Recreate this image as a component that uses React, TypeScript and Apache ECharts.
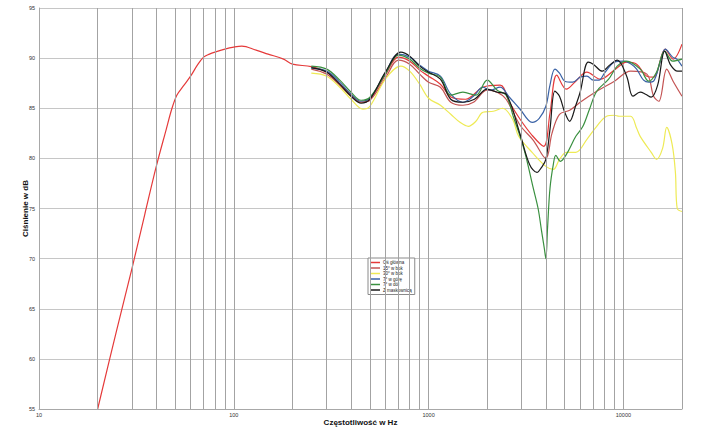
import React, { useEffect, useRef } from 'react';
import * as echarts from 'echarts';

const seriesNames = ['Oś główna', '15° w bok', '30° w bok', '7° w górę', '7° w dół', 'Z maskownicą'];
const seriesColors = ['#e53a3a', '#c45454', '#eeea55', '#3a62a6', '#3a9040', '#1a1a1a'];

const xTickValues = [10, 100, 1000, 10000];
const minorGridFreqs = [20, 30, 40, 50, 60, 70, 80, 90, 200, 300, 400, 500, 600, 700, 800, 900,
  2000, 3000, 4000, 5000, 6000, 7000, 8000, 9000, 20000];

const mainFreq = [20, 25, 30, 35, 40, 45, 48, 51, 55, 60, 65, 70, 75, 80, 90, 100, 110, 130, 150, 180, 200, 250, 300, 350, 400, 450, 500, 600, 700, 800, 900, 1000, 1150, 1310, 1550, 1900, 2330, 2600, 2950, 3400, 3900, 4200, 4550, 5100, 5700, 6500, 7600, 9100, 10400, 11700, 13200, 14300, 16400, 18000, 20000];
const mainDb = [55.0, 62.8, 69.0, 74.5, 79.2, 82.9, 84.9, 86.3, 87.2, 88.2, 89.3, 90.1, 90.4, 90.6, 90.9, 91.1, 91.2, 90.8, 90.4, 89.9, 89.4, 89.15, 88.6, 87.4, 86.3, 85.6, 85.9, 88.3, 90.1, 89.7, 88.8, 88.2, 87.4, 86.1, 85.9, 87.1, 87.3, 85.6, 83.9, 82.3, 81.2, 84.5, 88.3, 86.9, 87.7, 88.6, 87.9, 88.9, 89.6, 89.4, 88.2, 88.1, 90.9, 89.9, 91.4];

const side15Freq = [250, 300, 350, 400, 450, 500, 600, 700, 800, 900, 1000, 1150, 1300, 1500, 1700, 2000, 2250, 2500, 2950, 3450, 4000, 4300, 4700, 5300, 6000, 7300, 9000, 10900, 13200, 14300, 15200, 16700, 18000, 20000];
const side15Db = [88.9, 88.4, 87.3, 86.2, 85.6, 85.8, 88.0, 89.8, 89.4, 88.4, 87.6, 87.1, 85.6, 85.3, 85.6, 86.8, 86.6, 85.9, 83.3, 81.8, 80.0, 82.5, 84.4, 84.8, 85.6, 86.7, 87.7, 88.7, 88.4, 86.2, 85.7, 88.9, 87.7, 86.2];

const side30Freq = [250, 300, 350, 400, 460, 500, 600, 720, 800, 900, 1000, 1150, 1300, 1450, 1600, 1750, 1900, 2150, 2400, 2700, 2900, 3400, 4000, 4370, 4700, 5100, 5700, 6500, 7300, 8200, 9000, 9500, 10900, 11700, 12200, 13900, 14800, 15900, 16700, 17800, 18500, 18900, 20000];
const side30Db = [88.5, 88.2, 87.1, 85.9, 84.9, 85.2, 87.9, 89.2, 88.7, 87.4, 86.0, 85.3, 84.4, 83.6, 83.2, 83.7, 84.6, 84.7, 85.0, 83.9, 82.2, 80.6, 79.2, 78.9, 79.9, 80.6, 80.6, 81.9, 83.2, 84.2, 84.3, 84.2, 84.2, 83.0, 82.2, 80.6, 79.9, 81.0, 83.1, 81.4, 78.6, 75.0, 74.7];

const upFreq = [250, 300, 350, 400, 450, 500, 600, 700, 800, 900, 1000, 1150, 1300, 1500, 1700, 1900, 2070, 2330, 2600, 2950, 3400, 3700, 4000, 4200, 4450, 4700, 5000, 5500, 6000, 6500, 7000, 7500, 8000, 9000, 10000, 11000, 11700, 12700, 13500, 14300, 15600, 16400, 17900, 18800, 20000];
const upDb = [89.0, 88.7, 87.6, 86.4, 85.7, 86.0, 88.5, 90.4, 90.1, 89.3, 88.7, 88.2, 86.4, 85.6, 86.2, 87.1, 86.8, 87.1, 86.1, 84.9, 83.6, 84.0, 85.2, 87.3, 88.9, 88.5, 87.7, 87.6, 88.1, 88.2, 87.8, 87.8, 88.5, 89.6, 89.7, 89.4, 88.9, 87.8, 87.6, 87.7, 89.9, 90.9, 90.1, 89.9, 89.2];

const downFreq = [250, 300, 350, 400, 450, 500, 600, 700, 800, 900, 1000, 1150, 1300, 1500, 1750, 2000, 2250, 2500, 2730, 2950, 3150, 3430, 3650, 3800, 3930, 4000, 4080, 4200, 4370, 4500, 4750, 5100, 5700, 6200, 6700, 7300, 8400, 9300, 10400, 12200, 13500, 14800, 16300, 17900, 20000];
const downDb = [89.2, 88.9, 87.8, 86.6, 85.8, 86.1, 88.4, 90.3, 89.9, 89.0, 88.5, 88.1, 86.3, 86.6, 86.3, 87.8, 86.8, 86.3, 84.1, 82.2, 80.3, 77.2, 75.0, 72.8, 71.0, 70.0, 73.0, 77.0, 79.4, 80.3, 79.7, 80.4, 82.2, 83.2, 84.9, 86.7, 87.9, 89.2, 89.7, 88.9, 87.7, 88.6, 90.7, 89.7, 89.9];

const grilleFreq = [250, 300, 350, 400, 450, 500, 600, 720, 800, 900, 1000, 1150, 1300, 1500, 1720, 2000, 2250, 2500, 2950, 3300, 3600, 3800, 4000, 4200, 4450, 4700, 5000, 5300, 5700, 6000, 6600, 7000, 7800, 8500, 9300, 10400, 11200, 12200, 13000, 13900, 15000, 16300, 17500, 19000, 20000];
const grilleDb = [89.05, 88.6, 87.4, 86.2, 85.5, 85.9, 88.6, 90.6, 90.2, 89.2, 88.6, 87.9, 85.9, 85.6, 85.9, 86.9, 86.6, 86.4, 82.4, 79.4, 78.6, 79.1, 79.9, 82.9, 86.7, 86.2, 84.6, 83.7, 85.3, 86.6, 89.6, 89.4, 88.7, 89.3, 89.8, 88.2, 86.2, 86.6, 86.4, 86.1, 87.3, 90.7, 89.3, 88.7, 88.7];

const seriesFreqs = [mainFreq, side15Freq, side30Freq, upFreq, downFreq, grilleFreq];
const seriesDbs = [mainDb, side15Db, side30Db, upDb, downDb, grilleDb];

export default function App() {
  const ref = useRef<HTMLDivElement>(null);
  useEffect(() => {
    if (!ref.current) return;
    const chart = echarts.init(ref.current, undefined, { renderer: 'svg' });
    const font = 'Liberation Sans, Arial, sans-serif';
    const lines: any[] = seriesNames.map((name, i) => ({
      name,
      type: 'line',
      data: seriesFreqs[i].map((f, j) => [f, seriesDbs[i][j]]),
      showSymbol: false,
      symbol: 'none',
      smooth: 0.35,
      lineStyle: { color: seriesColors[i], width: 1.2 },
      itemStyle: { color: seriesColors[i] },
      z: 3,
    }));
    lines.unshift({
      name: 'grid',
      type: 'line',
      data: [],
      silent: true,
      z: 1,
      markLine: {
        silent: true,
        symbol: 'none',
        animation: false,
        label: { show: false },
        lineStyle: { color: '#a3a3a3', type: 'solid', width: 1 },
        data: minorGridFreqs.map((f) => ({ xAxis: f })),
      },
    });
    chart.setOption({
      animation: false,
      backgroundColor: '#ffffff',
      textStyle: { fontFamily: font },
      grid: { left: 39, right: 26, top: 8, bottom: 28, containLabel: false },
      legend: {
        data: seriesNames,
        orient: 'vertical',
        left: 368,
        top: 258,
        icon: 'rect',
        itemWidth: 10,
        itemHeight: 1.5,
        itemGap: 0.5,
        padding: [2, 3, 2, 2],
        backgroundColor: '#ffffff',
        borderColor: '#8a8a8a',
        borderWidth: 1,
        selectedMode: false,
        textStyle: { fontSize: 4.5, lineHeight: 5, color: '#222', fontFamily: font, padding: [0, 0, 0, -2] },
      },
      xAxis: {
        type: 'log',
        logBase: 10,
        min: 10,
        max: 20000,
        name: 'Częstotliwość w Hz',
        nameLocation: 'middle',
        nameGap: 9,
        nameMoveOverlap: false,
        nameTextStyle: { fontWeight: 'bold', fontSize: 8, color: '#111', fontFamily: font },
        axisLine: { show: true, lineStyle: { color: '#a8a8a8', width: 1 } },
        axisTick: { show: false },
        minorTick: { show: false },
        axisLabel: {
          fontSize: 5.5,
          color: '#333',
          margin: 3,
          fontFamily: font,
          showMaxLabel: false,
          formatter: (v: number) => {
            const r = Math.round(v);
            return xTickValues.includes(r) ? String(r) : '';
          },
        },
        splitLine: { show: true, lineStyle: { color: '#a3a3a3', width: 1 } },
      },
      yAxis: {
        type: 'value',
        min: 55,
        max: 95,
        interval: 5,
        name: 'Ciśnienie w dB',
        nameLocation: 'middle',
        nameRotate: 90,
        nameGap: 10,
        nameMoveOverlap: false,
        nameTextStyle: { fontWeight: 'bold', fontSize: 8, color: '#111', fontFamily: font },
        axisLine: { show: true, lineStyle: { color: '#a8a8a8', width: 1 } },
        axisTick: { show: false },
        axisLabel: { fontSize: 5.5, color: '#333', margin: 4, fontFamily: font },
        splitLine: { show: true, lineStyle: { color: '#c6c6c6', width: 1 } },
      },
      series: lines,
    });
    return () => chart.dispose();
  }, []);
  return <div ref={ref} style={{ position: 'fixed', left: 0, top: 0, width: 708, height: 437, background: '#fff' }} />;
}
